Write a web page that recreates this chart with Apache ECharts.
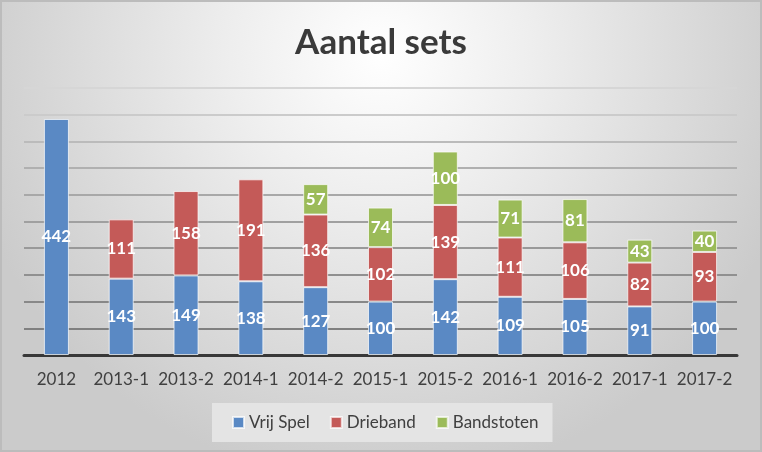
<!DOCTYPE html>
<html>
<head>
<meta charset="utf-8">
<script src="https://cdn.jsdelivr.net/npm/echarts@6/dist/echarts.min.js"></script>
<style>html,body{margin:0;padding:0;}#c{width:762px;height:452px;}</style>
</head>
<body>
<div id="c"></div>
<script>
const categories = ['2012','2013-1','2013-2','2014-1','2014-2','2015-1','2015-2','2016-1','2016-2','2017-1','2017-2'];
const vrijSpel   = [442,143,149,138,127,100,142,109,105,91,100];
const drieband   = [null,111,158,191,136,102,139,111,106,82,93];
const bandstoten = [null,null,null,null,57,74,100,71,81,43,40];
const seriesNames = ['Vrij Spel','Drieband','Bandstoten'];
const yTicks = [0,50,100,150,200,250,300,350,400,450,500];

const FONT = 'Lato';
const chart = echarts.init(document.getElementById('c'), null, {renderer:'canvas'});
const labelCfg = {show:true, position:'inside', color:'#ffffff', fontFamily:FONT, fontWeight:'bold', fontSize:17,
  formatter: p => (p.value == null ? '' : p.value)};
function mk(name, data, color){
  return {name, type:'bar', stack:'s', data, barWidth:25,
    itemStyle:{color, borderColor:'rgba(255,255,255,0.7)', borderWidth:1},
    label:labelCfg, emphasis:{disabled:true}};
}
chart.setOption({
  animation:false,
  backgroundColor:{type:'radial', x:0.5, y:0.12, r:0.95,
    colorStops:[{offset:0,color:'#ffffff'},{offset:0.35,color:'#eeeeee'},{offset:1,color:'#cbcbcb'}]},
  graphic:[{type:'rect', silent:true, z:100, shape:{x:1,y:1,width:760,height:450},
    style:{fill:'none', stroke:'#bcbcbc', lineWidth:2}}],
  title:{text:'Aantal sets', left:'center', top:20,
    textStyle:{fontFamily:FONT, fontWeight:'bold', fontSize:35, color:'#3a3a3a'}},
  legend:{data:seriesNames, left:212, top:403, itemWidth:11, itemHeight:11, itemGap:20,
    icon:'rect', backgroundColor:'#e4e4e4', padding:[11,14,11,20],
    textStyle:{fontFamily:FONT, fontSize:17, color:'#404040'}},
  grid:{left:24, right:25, top:88, bottom:97, containLabel:false},
  xAxis:{type:'category', data:categories,
    axisLine:{lineStyle:{color:'#383838', width:3}}, axisTick:{show:false},
    axisLabel:{interval:0, fontFamily:FONT, fontSize:17, color:'#404040', margin:16}},
  yAxis:{type:'value', min:yTicks[0], max:yTicks[yTicks.length-1], interval:50,
    axisLabel:{show:false}, axisLine:{show:false}, axisTick:{show:false},
    splitLine:{lineStyle:{width:2, color:['#808080','#808080','#888888','#909090','#999999','#a0a0a0','#a8a8a8','#b0b0b0','#bbbbbb','#cbcbcb','#d6d6d6']}}},
  series:[mk(seriesNames[0], vrijSpel, '#5a89c4'), mk(seriesNames[1], drieband, '#c45a58'), mk(seriesNames[2], bandstoten, '#9bbb59')]
});
</script>
</body>
</html>
